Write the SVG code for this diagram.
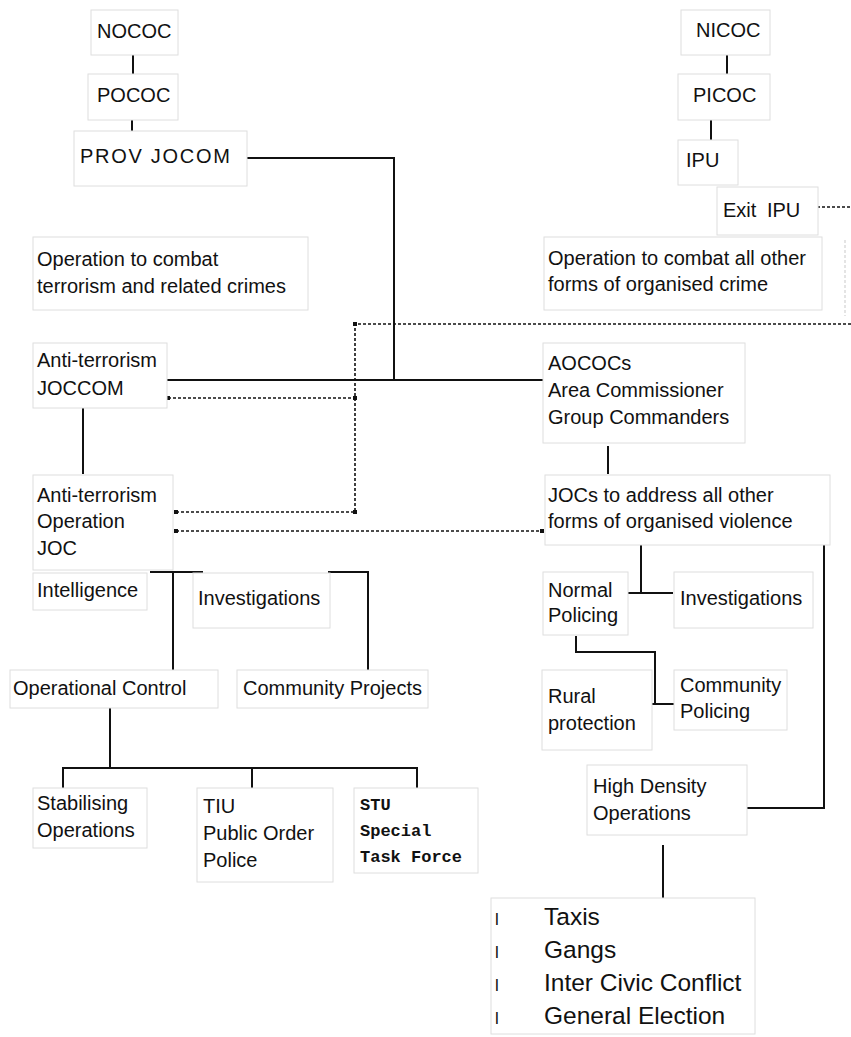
<svg xmlns="http://www.w3.org/2000/svg" width="851" height="1037" viewBox="0 0 851 1037">
<style>
.box{fill:#fff;stroke:#dedede;stroke-width:1}
.t{font-family:"Liberation Sans",Arial,sans-serif;font-size:20px;fill:#111}
.m{font-family:"Liberation Mono","Courier New",monospace;font-size:17px;font-weight:bold;fill:#111}
.big{font-family:"Liberation Sans",Arial,sans-serif;font-size:24.5px;fill:#111}
.bul{font-family:"Liberation Sans",Arial,sans-serif;font-size:17px;fill:#111}
.c{fill:none;stroke:#111;stroke-width:2}
.d{fill:none;stroke:#111;stroke-width:1.6;stroke-dasharray:3 2}
.df{fill:none;stroke:#dcdcdc;stroke-width:1.5;stroke-dasharray:3 2}
</style>
<defs>
<marker id="sq" viewBox="0 0 4 4" refX="2" refY="2" markerWidth="4" markerHeight="4" markerUnits="userSpaceOnUse">
<rect width="4" height="4" fill="#111"/>
</marker>
</defs>
<rect width="851" height="1037" fill="#fff"/>

<g id="connectors">
<path class="c" d="M133 55V74"/>
<path class="c" d="M132 120V132"/>
<path class="c" d="M246 158H394V380"/>
<path class="c" d="M167 380H543"/>
<path class="c" d="M727 55V74"/>
<path class="c" d="M711 120V140"/>
<path class="c" d="M83 408V474"/>
<path class="c" d="M608 446V474"/>
<path class="c" d="M150 572H203M173 572V670"/>
<path class="c" d="M328 572H368V670"/>
<path class="c" d="M110 708V768M63 788V768H417V788M252 768V788"/>
<path class="c" d="M641 545V593M618 593H673"/>
<path class="c" d="M576 636V652H655V704M642 704H675"/>
<path class="c" d="M824 545V808H747"/>
<path class="c" d="M663 845V898"/>
<path class="d" d="M851 324H355V512" marker-mid="url(#sq)"/>
<path class="d" d="M168 398H355" marker-start="url(#sq)" marker-end="url(#sq)"/>
<path class="d" d="M176 512H355" marker-start="url(#sq)" marker-end="url(#sq)"/>
<path class="d" d="M176 531H542" marker-start="url(#sq)" marker-end="url(#sq)"/>
<path class="d" d="M807 207H851" marker-start="url(#sq)"/>
<path class="df" d="M845 240V316"/>
</g>

<g id="n-nococ"><rect class="box" x="91" y="10" width="87" height="45"/><text class="t" x="97" y="38">NOCOC</text></g>
<g id="n-pococ"><rect class="box" x="88" y="74" width="90" height="46"/><text class="t" x="97" y="102">POCOC</text></g>
<g id="n-provjocom"><rect class="box" x="74" y="131" width="173" height="55"/><text class="t" x="80" y="163" textLength="150">PROV JOCOM</text></g>
<g id="n-nicoc"><rect class="box" x="681" y="10" width="89" height="45"/><text class="t" x="696" y="37">NICOC</text></g>
<g id="n-picoc"><rect class="box" x="678" y="74" width="92" height="46"/><text class="t" x="693" y="102">PICOC</text></g>
<g id="n-ipu"><rect class="box" x="678" y="140" width="60" height="45"/><text class="t" x="686" y="167">IPU</text></g>
<g id="n-exitipu"><rect class="box" x="717" y="187" width="101" height="48"/><text class="t" x="723" y="217" word-spacing="5">Exit IPU</text></g>
<g id="n-opother"><rect class="box" x="544" y="237" width="278" height="73"/><text class="t" x="548" y="265">Operation to combat all other</text><text class="t" x="548" y="291">forms of organised crime</text></g>
<g id="n-opterror"><rect class="box" x="33" y="237" width="275" height="73"/><text class="t" x="37" y="266">Operation to combat</text><text class="t" x="37" y="293">terrorism and related crimes</text></g>
<g id="n-atjoccom"><rect class="box" x="33" y="343" width="134" height="65"/><text class="t" x="37" y="367">Anti-terrorism</text><text class="t" x="37" y="395">JOCCOM</text></g>
<g id="n-aococs"><rect class="box" x="543" y="343" width="202" height="100"/><text class="t" x="548" y="370">AOCOCs</text><text class="t" x="548" y="397">Area Commissioner</text><text class="t" x="548" y="424">Group Commanders</text></g>
<g id="n-atjoc"><rect class="box" x="33" y="475" width="140" height="95"/><text class="t" x="37" y="502">Anti-terrorism</text><text class="t" x="37" y="528">Operation</text><text class="t" x="37" y="555">JOC</text></g>
<g id="n-jocs"><rect class="box" x="545" y="475" width="285" height="70"/><text class="t" x="548" y="502">JOCs to address all other</text><text class="t" x="548" y="528">forms of organised violence</text></g>
<g id="n-intel"><rect class="box" x="33" y="573" width="114" height="37"/><text class="t" x="37" y="597">Intelligence</text></g>
<g id="n-invleft"><rect class="box" x="193" y="573" width="137" height="55"/><text class="t" x="198" y="605">Investigations</text></g>
<g id="n-opctrl"><rect class="box" x="10" y="670" width="208" height="38"/><text class="t" x="13" y="695">Operational Control</text></g>
<g id="n-commproj"><rect class="box" x="237" y="670" width="191" height="38"/><text class="t" x="243" y="695">Community Projects</text></g>
<g id="n-stab"><rect class="box" x="33" y="788" width="114" height="60"/><text class="t" x="37" y="810">Stabilising</text><text class="t" x="37" y="837">Operations</text></g>
<g id="n-tiu"><rect class="box" x="197" y="788" width="136" height="94"/><text class="t" x="203" y="813">TIU</text><text class="t" x="203" y="840">Public Order</text><text class="t" x="203" y="867">Police</text></g>
<g id="n-stu"><rect class="box" x="354" y="788" width="124" height="85"/><text class="m" x="360" y="810">STU</text><text class="m" x="360" y="836">Special</text><text class="m" x="360" y="862">Task Force</text></g>
<g id="n-normal"><rect class="box" x="543" y="572" width="85" height="63"/><text class="t" x="548" y="597">Normal</text><text class="t" x="548" y="622">Policing</text></g>
<g id="n-invright"><rect class="box" x="674" y="572" width="139" height="56"/><text class="t" x="680" y="605">Investigations</text></g>
<g id="n-rural"><rect class="box" x="542" y="670" width="110" height="80"/><text class="t" x="548" y="703">Rural</text><text class="t" x="548" y="730">protection</text></g>
<g id="n-commpol"><rect class="box" x="674" y="670" width="113" height="60"/><text class="t" x="680" y="692">Community</text><text class="t" x="680" y="718">Policing</text></g>
<g id="n-hdo"><rect class="box" x="587" y="765" width="160" height="70"/><text class="t" x="593" y="793">High Density</text><text class="t" x="593" y="820">Operations</text></g>
<g id="n-list"><rect class="box" x="491" y="898" width="264" height="136"/>
<text class="bul" x="495" y="925">l</text><text class="big" x="544" y="925">Taxis</text>
<text class="bul" x="495" y="958">l</text><text class="big" x="544" y="958">Gangs</text>
<text class="bul" x="495" y="991">l</text><text class="big" x="544" y="991">Inter Civic Conflict</text>
<text class="bul" x="495" y="1024">l</text><text class="big" x="544" y="1024">General Election</text>
</g>
</svg>
